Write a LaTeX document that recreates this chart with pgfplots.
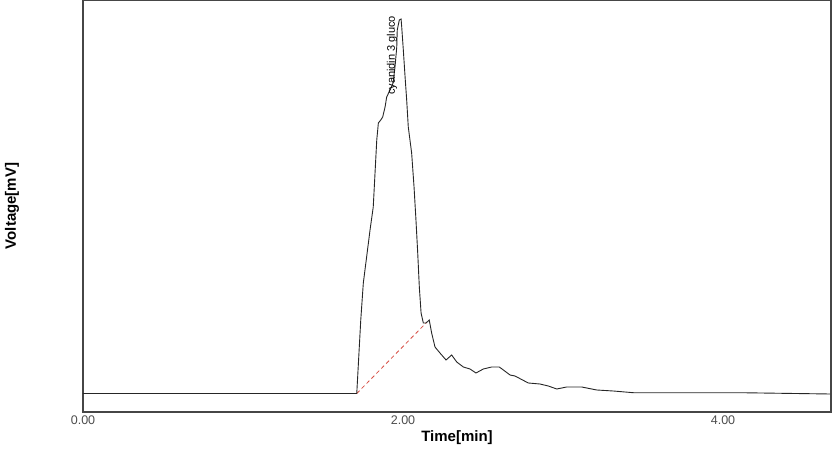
\documentclass[border=0pt]{standalone}
\usepackage{pgfplots}
\pgfplotsset{compat=1.18}
\usepackage{fontspec}
\setmainfont{Liberation Sans}
\definecolor{framegray}{RGB}{70,70,70}
\definecolor{basered}{RGB}{215,80,70}

\pgfplotstableread{
t v
0.000 18.5
1.711 18.5
1.736 92
1.752 129
1.794 182
1.814 205
1.836 272
1.846 289
1.861 292
1.873 295
1.888 305
1.898 315
1.919 322
1.938 329
1.950 345
1.961 365
1.964 382
1.977 392
1.988 393
1.992 385
2.002 362
2.013 335
2.023 312
2.033 285
2.054 259
2.069 225
2.081 192
2.092 159
2.102 125
2.113 99
2.127 89
2.144 89
2.164 92
2.179 79
2.200 65
2.231 59
2.269 52
2.304 57
2.336 50
2.377 45
2.419 43
2.456 39
2.502 43
2.554 45
2.602 45
2.669 37
2.700 36
2.783 29
2.856 28
2.908 26
2.961 23
3.023 25
3.117 25
3.211 22
3.314 21
3.439 19.3
4.106 19.3
4.669 18
}\signal

\begin{document}
\begin{tikzpicture}
\begin{axis}[
  scale only axis,
  width=748pt, height=412pt,
  xmin=0, xmax=4.675,
  ymin=0, ymax=412,
  axis line style={framegray, line width=1.1pt},
  xtick={0,2,4},
  xticklabels={0.00,2.00,4.00},
  ytick=\empty,
  major tick length=0pt,
  xticklabel style={font=\fontsize{12.5}{13}\selectfont, text=black!70, anchor=north, inner sep=0pt, yshift=-3.5pt},
  xlabel={\textbf{Time[min]}},
  ylabel={\textbf{Voltage[mV]}},
  xlabel style={font=\fontsize{15}{16}\selectfont, at={(axis description cs:0.5,-0.061)}, anchor=center},
  ylabel style={font=\fontsize{15}{16}\selectfont, at={(axis description cs:-0.095,0.5)}, anchor=center, rotate=0},
  clip=false,
]
\addplot[basered, line width=0.8pt, dash pattern=on 4pt off 3pt] coordinates {(1.711,18.5) (2.144,89)};
\addplot[black!85, line width=0.9pt] table[x=t, y=v] {\signal};
\node[rotate=90, anchor=west, font=\fontsize{11}{12}\selectfont, inner sep=0pt] at (axis cs:1.931,317) {cyanidin 3 gluco};
\end{axis}
\pgfresetboundingbox
\path ([shift={(-83pt,-38pt)}]current axis.south west) rectangle ([shift={(2pt,0pt)}]current axis.north east);
\end{tikzpicture}
\end{document}
